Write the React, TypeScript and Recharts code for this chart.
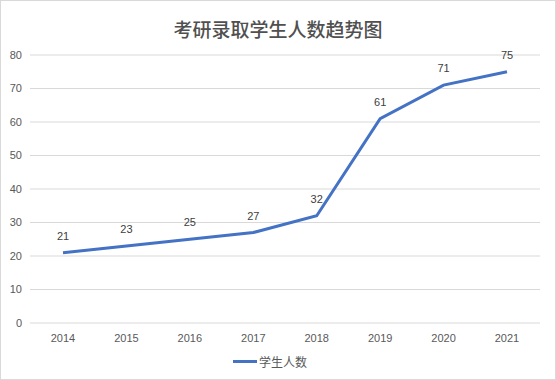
import React from 'react';
import { LineChart, Line, XAxis, YAxis, CartesianGrid, LabelList, Legend } from 'recharts';

const years = ['2014', '2015', '2016', '2017', '2018', '2019', '2020', '2021'];
const students = [21, 23, 25, 27, 32, 61, 71, 75];
const yTicks = [0, 10, 20, 30, 40, 50, 60, 70, 80];
const seriesName = '学生人数';
const title = '考研录取学生人数趋势图';

const data = years.map((y, i) => ({ year: y, value: students[i] }));

const font = '"Noto Sans CJK SC", "Noto Sans", sans-serif';
const numFont = '"Liberation Sans", Arial, sans-serif';

const renderLegend = () => (
  <div style={{ display: 'flex', justifyContent: 'center', alignItems: 'center', fontFamily: font, fontSize: 12, color: '#595959', marginTop: 5 }}>
    <span style={{ display: 'inline-block', width: 24, height: 3, background: '#4472C4', marginRight: 2 }} />
    <span>{seriesName}</span>
  </div>
);

export default function App() {
  return (
    <div style={{ position: 'absolute', left: 0, top: 0, width: 556, height: 380, background: '#fff' }}>
      <div style={{ position: 'absolute', left: 0, top: 0, width: 554, height: 378, border: '1px solid #D9D9D9' }} />
      <div style={{ position: 'absolute', left: 0, top: 15, width: 556, textAlign: 'center', fontFamily: font, fontSize: 19, fontWeight: 500, color: '#505050' }}>
        {title}
      </div>
      <LineChart width={556} height={380} data={data} margin={{ top: 55, right: 16, bottom: 10, left: 0 }}>
        <CartesianGrid vertical={false} stroke="#D9D9D9" />
        <XAxis dataKey="year" axisLine={false} tickLine={false} height={25} padding={{ left: 33, right: 33 }} tick={{ fontSize: 11, fill: '#595959', fontFamily: numFont }} tickMargin={5} />
        <YAxis domain={[0, 80]} ticks={yTicks} axisLine={false} tickLine={false} width={30} tick={{ fontSize: 11, fill: '#595959', fontFamily: numFont }} interval={0} />
        <Legend verticalAlign="bottom" height={22} content={renderLegend} />
        <Line type="linear" dataKey="value" name={seriesName} stroke="#4472C4" strokeWidth={3} dot={false} isAnimationActive={false}>
          <LabelList dataKey="value" position="top" offset={13} style={{ fontSize: 11, fill: '#404040', fontFamily: numFont }} />
        </Line>
      </LineChart>
    </div>
  );
}
